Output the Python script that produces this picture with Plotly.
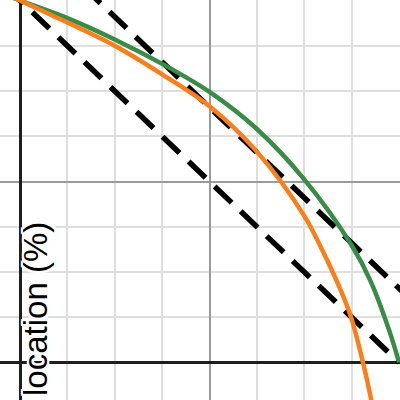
import plotly.graph_objects as go

# Curves
green_x = [-0.04, 0.0, 0.25, 0.5, 0.75, 1.0, 1.25, 1.5, 1.75, 1.85, 1.95, 2.0]
green_y = [2.016, 2.0, 1.903, 1.785, 1.650, 1.495, 1.290, 1.012, 0.648, 0.450, 0.172, 0.0]

orange_x = [-0.04, 0.0, 0.25, 0.5, 0.75, 1.0, 1.25, 1.5, 1.6, 1.7, 1.75, 1.81, 1.85, 1.87]
orange_y = [2.02, 2.0, 1.878, 1.750, 1.592, 1.416, 1.165, 0.810, 0.610, 0.380, 0.240, 0.0, -0.190, -0.300]

# Dashed reference lines
line1_x = [-0.072, 2.0]
line1_y = [2.072, 0.0]
line2_x = [0.335, 2.2]
line2_y = [2.075, 0.21]

major_ticks = [0, 1, 2]
minor_ticks = [-0.25, 0.25, 0.5, 0.75, 1.25, 1.5, 1.75]

label = "location (%)"

fig = go.Figure()
fig.add_trace(go.Scatter(x=line1_x, y=line1_y, mode="lines",
                         line=dict(color="black", width=5.5, dash="23.5px,12.5px")))
fig.add_trace(go.Scatter(x=line2_x, y=line2_y, mode="lines",
                         line=dict(color="black", width=5.5, dash="23.5px,12.5px")))
fig.add_trace(go.Scatter(x=green_x, y=green_y, mode="lines",
                         line=dict(color="#388c46", width=4.5, shape="spline", smoothing=1)))
fig.add_trace(go.Scatter(x=orange_x, y=orange_y, mode="lines",
                         line=dict(color="#fa7e19", width=4.5, shape="spline", smoothing=1)))

fig.update_layout(
    width=400, height=400,
    margin=dict(l=0, r=0, t=0, b=0),
    paper_bgcolor="white", plot_bgcolor="white",
    showlegend=False,
    xaxis=dict(range=[-20 / 189.5, 380 / 189.5], tickvals=major_ticks, showticklabels=False,
               showgrid=True, gridcolor="#9a9a9a", gridwidth=2,
               zeroline=True, zerolinecolor="#1e1e1e", zerolinewidth=3,
               minor=dict(tickvals=minor_ticks, showgrid=True, gridcolor="#dedede", gridwidth=2),
               fixedrange=True),
    yaxis=dict(range=[(362.5 - 400) / 181, 362.5 / 181], tickvals=major_ticks, showticklabels=False,
               showgrid=True, gridcolor="#9a9a9a", gridwidth=2,
               zeroline=True, zerolinecolor="#1e1e1e", zerolinewidth=3,
               minor=dict(tickvals=minor_ticks, showgrid=True, gridcolor="#dedede", gridwidth=2),
               fixedrange=True),
    annotations=[dict(
        text=label, textangle=-90, showarrow=False,
        xref="paper", yref="paper", x=35.5 / 400, y=1 - 309.5 / 400,
        xanchor="center", yanchor="middle",
        font=dict(family="Liberation Sans, Arial, sans-serif", size=33, color="black",
                  shadow="2px 2px 0 white, -2px -2px 0 white, 2px -2px 0 white, -2px 2px 0 white, 0 2px 0 white, 0 -2px 0 white, 2px 0 0 white, -2px 0 0 white"),
    )],
)

fig.write_html("out.html", config={"displayModeBar": False},
               post_script="document.body.style.margin='0';document.body.style.overflow='hidden';")
